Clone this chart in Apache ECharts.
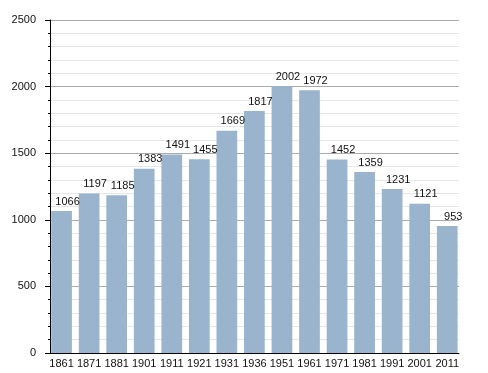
<!DOCTYPE html>
<html>
<head>
<meta charset="utf-8">
<script src="https://cdn.jsdelivr.net/npm/echarts@6/dist/echarts.min.js"></script>
<style>
html,body{margin:0;padding:0;background:#fff;}
#chart{width:488px;height:373px;}
</style>
</head>
<body>
<div id="chart"></div>
<script>
const categories = ['1861','1871','1881','1901','1911','1921','1931','1936','1951','1961','1971','1981','1991','2001','2011'];
const population = [1066,1197,1185,1383,1491,1455,1669,1817,2002,1972,1452,1359,1231,1121,953];
const yMin = 0, yMax = 2500, yStep = 500;

const chart = echarts.init(document.getElementById('chart'));
const font = 'Liberation Sans, Arial, sans-serif';
chart.setOption({
  animation: false,
  backgroundColor: '#fff',
  grid: [
    {left: 50, right: 29, top: 20, bottom: 20},
    {left: 47.8, right: 27, top: 20, bottom: 20}
  ],
  xAxis: [
    {gridIndex: 0, type: 'category', data: categories,
     axisLine: {show: true, lineStyle: {color: '#000', width: 1}},
     axisTick: {show: false}, axisLabel: {show: false}, splitLine: {show: false}},
    {gridIndex: 1, type: 'category', data: categories,
     axisLine: {show: false}, axisTick: {show: false},
     axisLabel: {show: true, color: '#111', fontSize: 11, fontFamily: font, margin: 5, interval: 0}}
  ],
  yAxis: [
    {gridIndex: 0, type: 'value', min: yMin, max: yMax, interval: yStep,
     axisLine: {show: true, lineStyle: {color: '#000', width: 1}},
     axisTick: {show: true, length: 5, lineStyle: {color: '#000'}},
     minorTick: {show: true, splitNumber: 5, length: 2, lineStyle: {color: '#000'}},
     splitLine: {show: true, lineStyle: {color: '#ababab', width: 1}},
     minorSplitLine: {show: true, lineStyle: {color: '#e6e6e6', width: 1}},
     axisLabel: {color: '#111', fontSize: 11, fontFamily: font, margin: 14,
                 formatter: v => String(v)}},
    {gridIndex: 1, type: 'value', min: yMin, max: yMax, interval: yStep, show: false,
     splitLine: {show: false}}
  ],
  series: [{
    type: 'bar', xAxisIndex: 1, yAxisIndex: 1,
    data: population, barWidth: 20.7,
    itemStyle: {color: '#9ab4ce'},
    label: {show: true, position: 'top', distance: 4, offset: [6, 0],
            color: '#111', fontSize: 11, fontFamily: font}
  }]
});
</script>
</body>
</html>
